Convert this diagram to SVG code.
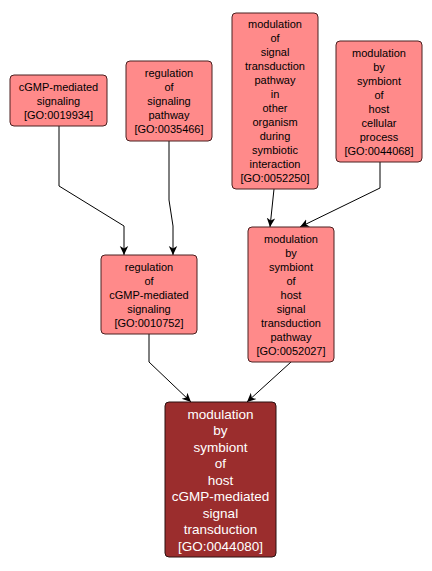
<svg xmlns="http://www.w3.org/2000/svg" width="432" height="571" viewBox="0 0 432 571">
<style>
.n rect{fill:#ff8a8a;stroke:#4a2020;stroke-width:1}
.n text{font-family:"Liberation Sans",Arial,sans-serif;font-size:11px;fill:#000;text-anchor:middle}
.g rect{fill:#9b2d2d;stroke:#2a1010;stroke-width:1}
.g text{font-family:"Liberation Sans",Arial,sans-serif;font-size:13.5px;fill:#fff;text-anchor:middle}
.e{fill:none;stroke:#000;stroke-width:1}
</style>
<defs>
<marker id="ah" markerWidth="10" markerHeight="10" refX="9" refY="5" orient="auto" markerUnits="userSpaceOnUse">
<path d="M0,0.8 L9,5 L0,9.2 L2.5,5 Z" fill="#000"/>
</marker>
</defs>
<rect width="432" height="571" fill="#fff"/>
<g id="edges">
<path class="e" d="M59,126 V186 L124,226 V255" marker-end="url(#ah)"/>
<path class="e" d="M169,141 V200 L173,226 V255" marker-end="url(#ah)"/>
<path class="e" d="M274,189 L270,227" marker-end="url(#ah)"/>
<path class="e" d="M380,162 V188 L300,227" marker-end="url(#ah)"/>
<path class="e" d="M149,334 V362 L191,402" marker-end="url(#ah)"/>
<path class="e" d="M291,362 L247,402" marker-end="url(#ah)"/>
</g>
<g id="GO0019934" class="n">
<rect x="10" y="75" width="97" height="51" rx="4"/>
<text x="58.5" y="90.5">cGMP-mediated</text>
<text x="58.5" y="104.5">signaling</text>
<text x="58.5" y="118.5">[GO:0019934]</text>
</g>
<g id="GO0035466" class="n">
<rect x="126" y="61" width="86" height="80" rx="4"/>
<text x="169" y="77">regulation</text>
<text x="169" y="91">of</text>
<text x="169" y="105">signaling</text>
<text x="169" y="119">pathway</text>
<text x="169" y="133">[GO:0035466]</text>
</g>
<g id="GO0052250" class="n">
<rect x="232" y="13" width="86" height="176" rx="4"/>
<text x="275" y="28">modulation</text>
<text x="275" y="42">of</text>
<text x="275" y="56">signal</text>
<text x="275" y="70">transduction</text>
<text x="275" y="84">pathway</text>
<text x="275" y="98">in</text>
<text x="275" y="112">other</text>
<text x="275" y="126">organism</text>
<text x="275" y="140">during</text>
<text x="275" y="154">symbiotic</text>
<text x="275" y="168">interaction</text>
<text x="275" y="182">[GO:0052250]</text>
</g>
<g id="GO0044068" class="n">
<rect x="336" y="41" width="86" height="121" rx="4"/>
<text x="379" y="56.5">modulation</text>
<text x="379" y="70.5">by</text>
<text x="379" y="84.5">symbiont</text>
<text x="379" y="98.5">of</text>
<text x="379" y="112.5">host</text>
<text x="379" y="126.5">cellular</text>
<text x="379" y="140.5">process</text>
<text x="379" y="154.5">[GO:0044068]</text>
</g>
<g id="GO0010752" class="n">
<rect x="101" y="255" width="96" height="79" rx="4"/>
<text x="149" y="270.5">regulation</text>
<text x="149" y="284.5">of</text>
<text x="149" y="298.5">cGMP-mediated</text>
<text x="149" y="312.5">signaling</text>
<text x="149" y="326.5">[GO:0010752]</text>
</g>
<g id="GO0052027" class="n">
<rect x="248" y="227" width="86" height="135" rx="4"/>
<text x="291" y="242.5">modulation</text>
<text x="291" y="256.5">by</text>
<text x="291" y="270.5">symbiont</text>
<text x="291" y="284.5">of</text>
<text x="291" y="298.5">host</text>
<text x="291" y="312.5">signal</text>
<text x="291" y="326.5">transduction</text>
<text x="291" y="340.5">pathway</text>
<text x="291" y="354.5">[GO:0052027]</text>
</g>
<g id="GO0044080" class="g">
<rect x="165" y="402" width="111" height="155" rx="4"/>
<text x="220.5" y="418.5">modulation</text>
<text x="220.5" y="435">by</text>
<text x="220.5" y="451.5">symbiont</text>
<text x="220.5" y="468">of</text>
<text x="220.5" y="484.5">host</text>
<text x="220.5" y="501">cGMP-mediated</text>
<text x="220.5" y="517.5">signal</text>
<text x="220.5" y="534">transduction</text>
<text x="220.5" y="550.5">[GO:0044080]</text>
</g>
</svg>
